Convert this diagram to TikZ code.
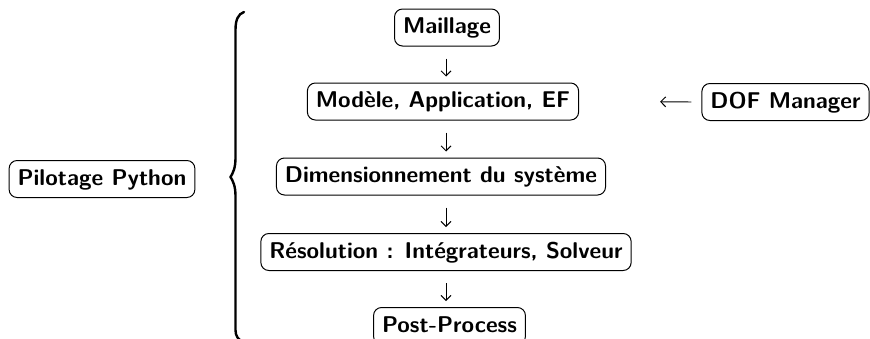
\documentclass[tikz,border=0pt]{standalone}
\usetikzlibrary{arrows.meta}
\begin{document}
\begin{tikzpicture}[x=1pt,y=-1pt,
  box/.style={draw,line width=1pt,rounded corners=8pt,inner xsep=8.5pt,inner ysep=0pt,
    minimum height=37pt,text height=17pt,text depth=5pt,
    font=\fontsize{22.8}{27}\selectfont\sffamily\bfseries},
  arr/.style={line width=0.9pt,-{Straight Barb[length=5pt,width=10pt,line width=0.9pt]}}]
\useasboundingbox (0,0) rectangle (870,338);
\clip (0,0) rectangle (870,338);
\node[box] (mail) at (447,27.5) {Maillage};
\node[box] (mod) at (443,101.5) {Mod\`ele, Application, EF};
\node[box] (dof) at (785.5,102) {DOF Manager};
\node[box] (dim) at (441,176.5) {Dimensionnement du syst\`eme};
\node[box] (res) at (446,252) {R\'esolution : Int\'egrateurs, Solveur};
\node[box] (post) at (449.5,326) {Post-Process};
\node[box] (pilot) at (102,179) {Pilotage Python};
% brace
\draw[line width=2.4pt,line cap=round]
  (244,12) .. controls (238,14) and (235.5,20) .. (235.5,30)
  -- (235.5,158) .. controls (235.5,168) and (233,173) .. (230.5,177)
  .. controls (233,181) and (235.5,186) .. (235.5,196)
  -- (235.5,330) .. controls (235.5,336) and (238,340) .. (244,342);
% connectors
\draw[arr,shorten <=12pt,shorten >=6pt] (mail.south -| 446,0) -- (mod.north -| 446,0);
\draw[arr,shorten <=12pt,shorten >=6pt] (mod.south -| 446,0) -- (dim.north -| 446,0);
\draw[arr,shorten <=12pt,shorten >=6pt] (dim.south -| 446,0) -- (res.north -| 446,0);
\draw[arr,shorten <=12pt,shorten >=6pt] (res.south -| 446,0) -- (post.north -| 446,0);
\draw[arr,shorten <=10pt,shorten >=81pt] (dof.west) -- (mod.east);
\end{tikzpicture}
\end{document}
